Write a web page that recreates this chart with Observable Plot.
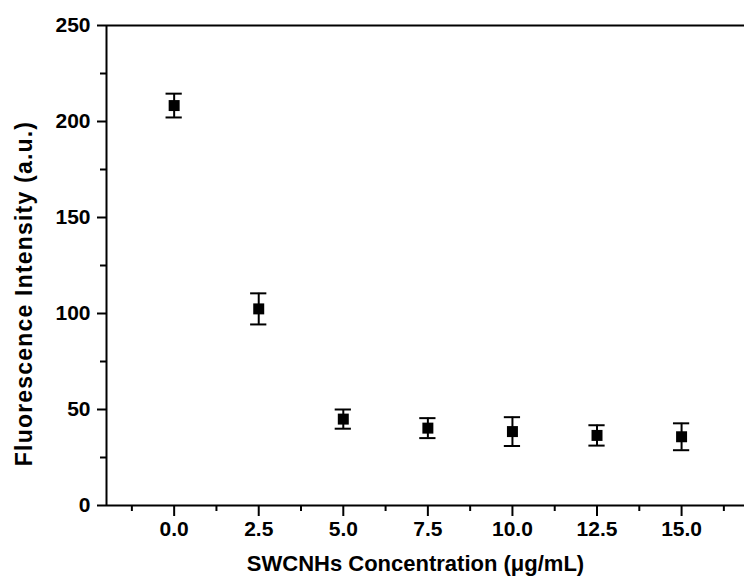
<!DOCTYPE html>
<html>
<head>
<meta charset="utf-8">
<script src="https://cdn.jsdelivr.net/npm/d3@7"></script>
<script src="https://cdn.jsdelivr.net/npm/@observablehq/plot@0.6"></script>
<style>
  html, body { margin: 0; padding: 0; background: #fff; }
  #chart svg { font-family: "Liberation Sans", Arial, sans-serif; font-weight: bold; }
  #chart svg g[aria-label="y-axis tick label"] { font-size: 21px; }
  #chart svg g[aria-label="x-axis tick label"] { font-size: 21px; }
</style>
</head>
<body>
<div id="chart"></div>
<script>
// Data
const concentration = [0.0, 2.5, 5.0, 7.5, 10.0, 12.5, 15.0];
const intensity     = [208.3, 102.4, 45.0, 40.3, 38.5, 36.5, 35.8];
const errorBar      = [6.2, 8.1, 5.0, 5.2, 7.5, 5.3, 7.0];
const xMajorTicks = [0, 2.5, 5, 7.5, 10, 12.5, 15];
const xMinorTicks = [-1.25, 1.25, 3.75, 6.25, 8.75, 11.25, 13.75, 16.25];
const yMajorTicks = [0, 50, 100, 150, 200, 250];
const yMinorTicks = [25, 75, 125, 175, 225];
const xTitle = "SWCNHs Concentration (\u03bcg/mL)";
const yTitle = "Fluorescence Intensity (a.u.)";

const data = concentration.map((c, i) => ({x: c, y: intensity[i], e: errorBar[i]}));
const capHalf = 0.24; // half-width of error bar caps in x units

const chart = Plot.plot({
  width: 744,
  height: 579,
  marginLeft: 106,
  marginRight: 0,
  marginTop: 25,
  marginBottom: 74,
  style: {fontSize: "21px", fontFamily: "'Liberation Sans', Arial, sans-serif", fontWeight: "bold", color: "#000", background: "#fff"},
  x: {domain: [-2, 16.86]},
  y: {domain: [0, 250]},
  marks: [
    // frame lines
    Plot.ruleX([-2], {stroke: "#000", strokeWidth: 2}),
    Plot.ruleY([0], {stroke: "#000", strokeWidth: 2}),
    Plot.ruleY([250], {stroke: "#000", strokeWidth: 2}),
    // axes
    Plot.axisX(xMajorTicks, {tickSize: 11, tickPadding: 5, strokeWidth: 2, tickFormat: d3.format(".1f"), fontWeight: "bold", label: null}),
    Plot.axisX(xMinorTicks, {tickSize: 6, strokeWidth: 2, tickFormat: null, label: null, text: null}),
    Plot.axisY(yMajorTicks, {tickSize: 9, tickPadding: 7, strokeWidth: 2, fontWeight: "bold", label: null}),
    Plot.axisY(yMinorTicks, {tickSize: 6, strokeWidth: 2, tickFormat: null, label: null, text: null}),
    // error bars
    Plot.ruleX(data, {x: "x", y1: d => d.y - d.e, y2: d => d.y + d.e, stroke: "#000", strokeWidth: 2}),
    Plot.ruleY(data, {y: d => d.y + d.e, x1: d => d.x - capHalf, x2: d => d.x + capHalf, stroke: "#000", strokeWidth: 2}),
    Plot.ruleY(data, {y: d => d.y - d.e, x1: d => d.x - capHalf, x2: d => d.x + capHalf, stroke: "#000", strokeWidth: 2}),
    // markers
    Plot.dot(data, {x: "x", y: "y", symbol: "square", r: 6.2, fill: "#000", stroke: "none"}),
    // axis titles
    Plot.text([xTitle], {frameAnchor: "bottom", dx: -10, dy: 58, fontSize: 22, fontWeight: "bold", lineAnchor: "middle", textAnchor: "middle", fill: "#000"}),
    Plot.text([yTitle], {frameAnchor: "left", dx: -82, dy: 28, rotate: -90, fontSize: 23, fontWeight: "bold", lineAnchor: "middle", textAnchor: "middle", fill: "#000"})
  ]
});
chart.querySelectorAll("text").forEach(t => {
  if (t.textContent === yTitle) t.setAttribute("letter-spacing", "1.2");
});
document.getElementById("chart").appendChild(chart);
</script>
</body>
</html>
